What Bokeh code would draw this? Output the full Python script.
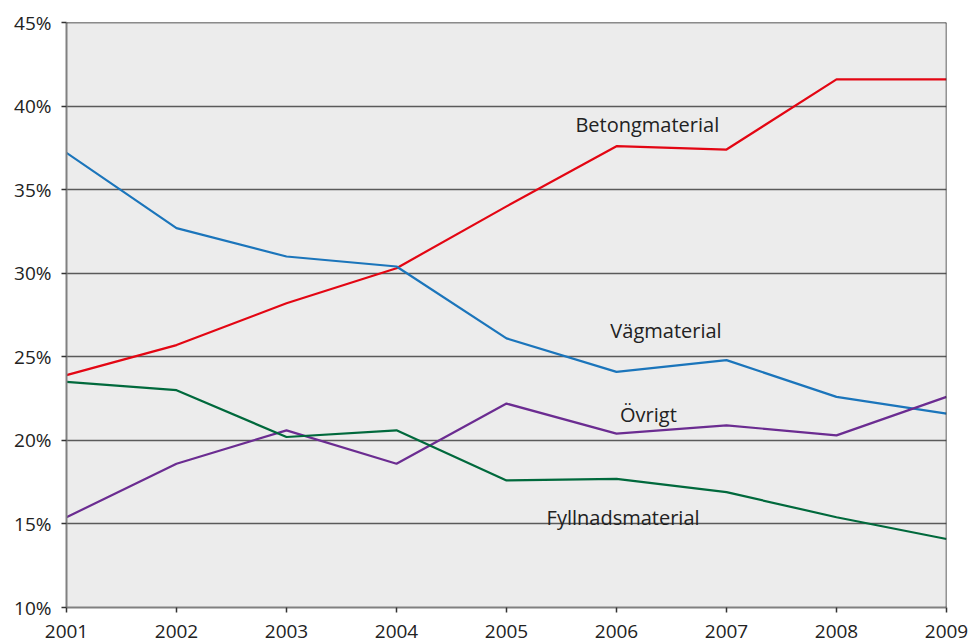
from bokeh.plotting import figure
from bokeh.models import ColumnDataSource, FixedTicker, Range1d, Span
from bokeh.core.properties import value
from bokeh.embed import file_html
from bokeh.resources import INLINE

years = [2001, 2002, 2003, 2004, 2005, 2006, 2007, 2008, 2009]
betong = [23.9, 25.7, 28.2, 30.3, 34.0, 37.6, 37.4, 41.6, 41.6]
vag = [37.2, 32.7, 31.0, 30.4, 26.1, 24.1, 24.8, 22.6, 21.6]
fyllnad = [23.5, 23.0, 20.2, 20.6, 17.6, 17.7, 16.9, 15.4, 14.1]
ovrigt = [15.4, 18.6, 20.6, 18.6, 22.2, 20.4, 20.9, 20.3, 22.6]

y_ticks = [10, 15, 20, 25, 30, 35, 40, 45]
y_tick_labels = {t: f"{t}%" for t in y_ticks}

label_names = ["Betongmaterial", "Vägmaterial", "Övrigt", "Fyllnadsmaterial"]
label_x = [2006.28, 2006.45, 2006.29, 2006.06]
label_y = [38.9, 26.6, 21.55, 15.4]

colors = ["#e30613", "#1b75bb", "#6b2c91", "#00693c"]

FONT = "Open Sans"

p = figure(width=976, height=642, output_backend="svg", toolbar_location=None,
           x_range=Range1d(2001, 2009), y_range=Range1d(10, 45),
           min_border_left=66, min_border_right=30, min_border_top=22, min_border_bottom=35)
p.background_fill_color = "#ececec"
p.border_fill_color = "white"
p.outline_line_color = None

p.xgrid.visible = False
p.ygrid.ticker = FixedTicker(ticks=y_ticks)
p.ygrid.grid_line_color = "#5a5a5a"
p.ygrid.grid_line_width = 1.5

p.xaxis.ticker = FixedTicker(ticks=years)
p.yaxis.ticker = FixedTicker(ticks=y_ticks)
p.yaxis.major_label_overrides = y_tick_labels
for ax in (p.xaxis[0], p.yaxis[0]):
    ax.axis_line_color = "#808080"
    ax.axis_line_width = 2
    ax.major_tick_line_color = "#333333"
    ax.major_tick_line_width = 1.5
    ax.major_tick_in = 0
    ax.major_tick_out = 5
    ax.minor_tick_line_color = None
    ax.major_label_text_font = FONT
    ax.major_label_text_font_size = "19px"
    ax.major_label_text_color = "#222222"
p.xaxis.major_label_standoff = 12
p.yaxis.major_label_standoff = 10

# right border and top line
p.add_layout(Span(location=2009, dimension="height", line_color="#333333", line_width=1.5))
p.add_layout(Span(location=45, dimension="width", line_color="#222222", line_width=1.5))

series = [betong, vag, ovrigt, fyllnad]
for s, c in zip(series, colors):
    p.line(years, s, line_color=c, line_width=2.2)

src = ColumnDataSource(dict(x=label_x, y=label_y, t=label_names))
p.text(x="x", y="y", text="t", source=src, text_align="center", text_baseline="middle",
       text_font=value(FONT), text_font_size="20px", text_color="#222222")

open("out.html", "w").write(file_html(p, INLINE))
